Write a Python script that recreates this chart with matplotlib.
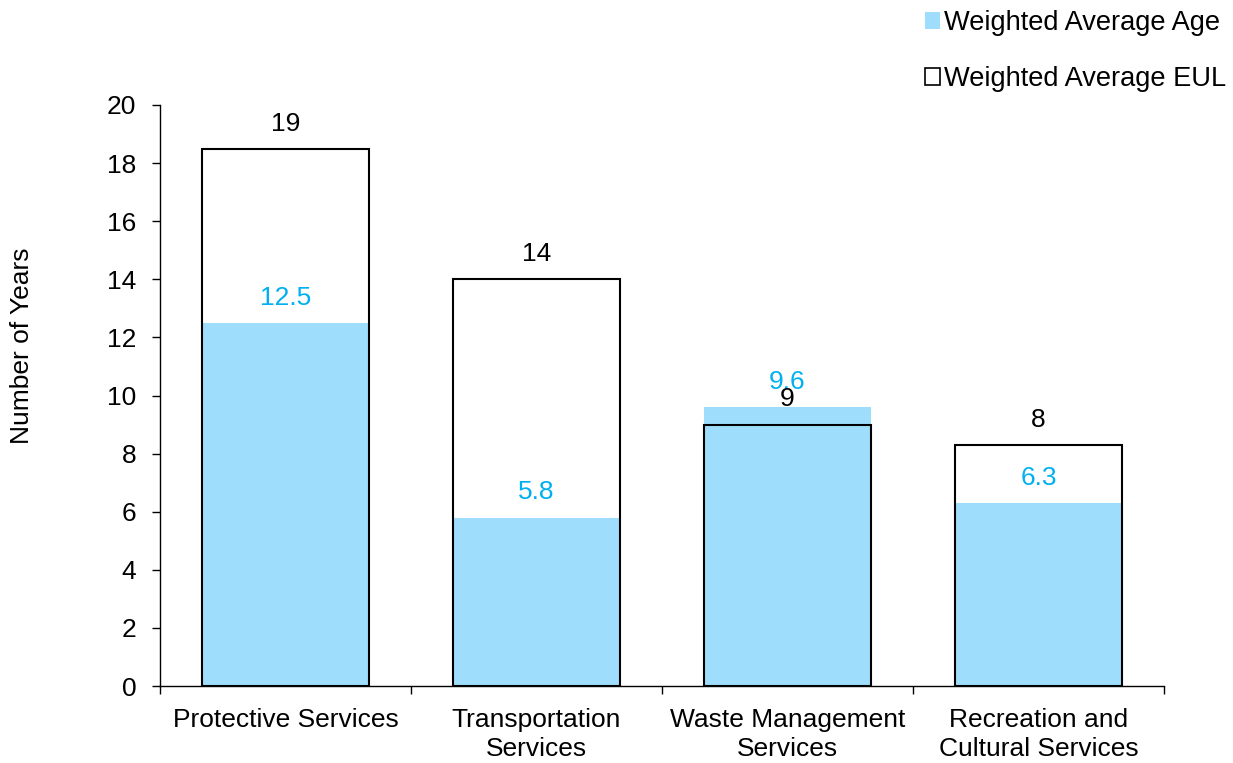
import math
import matplotlib
matplotlib.use("Agg")
import matplotlib.pyplot as plt
from matplotlib.patches import Patch

categories = ["Protective Services", "Transportation\nServices",
              "Waste Management\nServices", "Recreation and\nCultural Services"]
avg_age = [12.5, 5.8, 9.6, 6.3]
avg_eul = [18.5, 14.0, 9.0, 8.3]
yticks = [0, 2, 4, 6, 8, 10, 12, 14, 16, 18, 20]

BLUE_FILL = "#9EDEFC"
BLUE_TEXT = "#00B0F0"
FS = 19

plt.rcParams["font.family"] = ["Liberation Sans", "DejaVu Sans"]

fig = plt.figure(figsize=(12.33, 7.63), dpi=100)
ax = fig.add_axes([160 / 1233, 1 - 686 / 763, 1004 / 1233, 581 / 763])

x = list(range(len(categories)))
w = 0.665
ax.bar(x, avg_age, width=w, color=BLUE_FILL, edgecolor="none", zorder=2)
ax.bar(x, avg_eul, width=w, facecolor="none", edgecolor="black", linewidth=1.5, zorder=3)

for xi, v in zip(x, avg_age):
    ax.annotate(f"{v:.1f}", (xi, v), xytext=(0, 13), textcoords="offset points",
                ha="center", va="baseline", color=BLUE_TEXT, fontsize=FS, zorder=5)
for xi, v in zip(x, avg_eul):
    ax.annotate(f"{math.floor(v + 0.5)}", (xi, v), xytext=(0, 13), textcoords="offset points",
                ha="center", va="baseline", color="black", fontsize=FS, zorder=5)

ax.set_xlim(-0.5, len(categories) - 0.5)
ax.set_ylim(0, 20)
ax.set_yticks(yticks)
ax.tick_params(axis="y", labelsize=FS, length=6, width=1, pad=11, direction="out")
ax.set_xticks(x)
ax.set_xticklabels(categories, fontsize=FS, linespacing=1.27)
ax.tick_params(axis="x", length=0, pad=16)
ax.set_xticks([i - 0.5 for i in range(len(categories) + 1)], minor=True)
ax.tick_params(axis="x", which="minor", length=6, width=1, direction="out")
for s in ["top", "right"]:
    ax.spines[s].set_visible(False)
for s in ["left", "bottom"]:
    ax.spines[s].set_linewidth(1)

fig.text(22 / 1233, 1 - 346 / 763, "Number of Years", rotation=90,
         ha="center", va="center", fontsize=FS)

handles = [Patch(facecolor=BLUE_FILL, edgecolor="none", label="Weighted Average Age"),
           Patch(facecolor="white", edgecolor="black", linewidth=1.2, label="Weighted Average EUL")]
fig.legend(handles=handles, loc="upper right", bbox_to_anchor=(1226 / 1233, 1 - 10 / 763),
           frameon=False, fontsize=19.6, handlelength=0.55, handleheight=0.55,
           handletextpad=0.15, labelspacing=1.1, borderpad=0, borderaxespad=0)

fig.savefig("out.png", dpi=100)
